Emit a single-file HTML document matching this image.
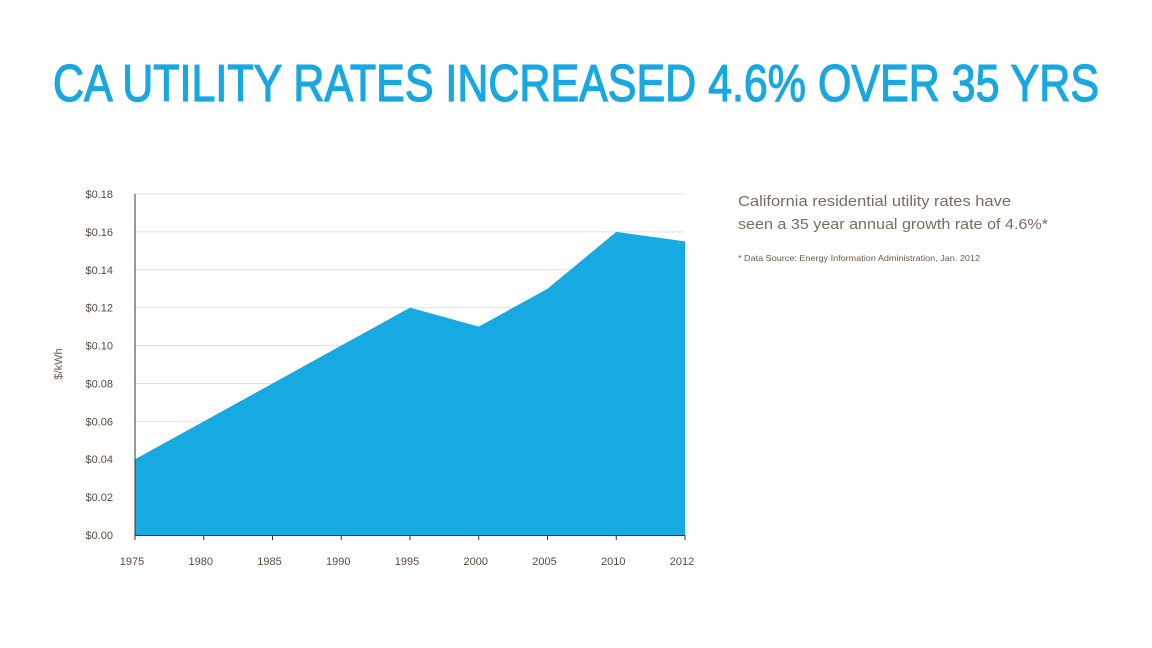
<!DOCTYPE html>
<html><head><meta charset="utf-8"><style>
body{margin:0;background:#fff;}
svg{display:block;font-family:"Liberation Sans",sans-serif;}
</style></head><body>
<svg width="1152" height="648" id="svg">
<text x="53" y="101" font-size="52" fill="#17a8e1" stroke="#17a8e1" stroke-width="1.3" textLength="1046" lengthAdjust="spacingAndGlyphs">CA UTILITY RATES INCREASED 4.6% OVER 35 YRS</text>
<text x="738" y="206" font-size="15" fill="#7b6b5e" textLength="273" lengthAdjust="spacingAndGlyphs">California residential utility rates have</text>
<text x="738" y="229" font-size="15" fill="#7b6b5e" textLength="310" lengthAdjust="spacingAndGlyphs">seen a 35 year annual growth rate of 4.6%*</text>
<text x="738" y="261" font-size="8.5" fill="#6b5b4e" textLength="242" lengthAdjust="spacingAndGlyphs">* Data Source: Energy Information Administration, Jan. 2012</text>
<text transform="translate(62,364) rotate(-90)" text-anchor="middle" font-size="11" fill="#6b5b4e">$/kWh</text>
<g id="plot"></g>
</svg>
<script>
const categories=["1975","1980","1985","1990","1995","2000","2005","2010","2012"];
const values=[0.04,0.06,0.08,0.10,0.12,0.11,0.13,0.16,0.155];
const yTicks=[0,0.02,0.04,0.06,0.08,0.10,0.12,0.14,0.16,0.18];
const NS="http://www.w3.org/2000/svg";
const g=document.getElementById('plot');
const x0=135,x1=685,y0=535,y1=194,ymax=0.18;
const xs=i=>x0+i*(x1-x0)/(categories.length-1);
const ys=v=>y0-(v/ymax)*(y0-y1);
function mk(t,a){const e=document.createElementNS(NS,t);for(const k in a)e.setAttribute(k,a[k]);g.appendChild(e);return e;}
yTicks.forEach(v=>{
 if(v>0){const l=mk('line',{x1:x0,x2:x1,y1:ys(v),y2:ys(v),stroke:'#e2e2e2','stroke-width':1});
 
 }
 const t=mk('text',{x:113,y:ys(v)+4,'text-anchor':'end','font-size':11,fill:'#5a4a40'});t.textContent='$'+v.toFixed(2);
 
 
});
let d='M'+xs(0)+','+y0;values.forEach((v,i)=>d+=' L'+xs(i)+','+ys(v));d+=' L'+xs(values.length-1)+','+y0+' Z';
const a=mk('path',{d:d,fill:'#17aae2'});


const ax=mk('line',{x1:x0,x2:x0,y1:y1,y2:y0,stroke:'#333','stroke-width':1});


const bx=mk('line',{x1:x0,x2:x1,y1:y0+0.5,y2:y0+0.5,stroke:'#333','stroke-width':1});


categories.forEach((c,i)=>{
 const tk=mk('line',{x1:xs(i),x2:xs(i),y1:y0,y2:y0+5,stroke:'#333'});
 
 
 const t=mk('text',{x:xs(i)-3,y:565,'text-anchor':'middle','font-size':11,fill:'#5a4a40'});t.textContent=c;
 
 
});
</script>
</body></html>
